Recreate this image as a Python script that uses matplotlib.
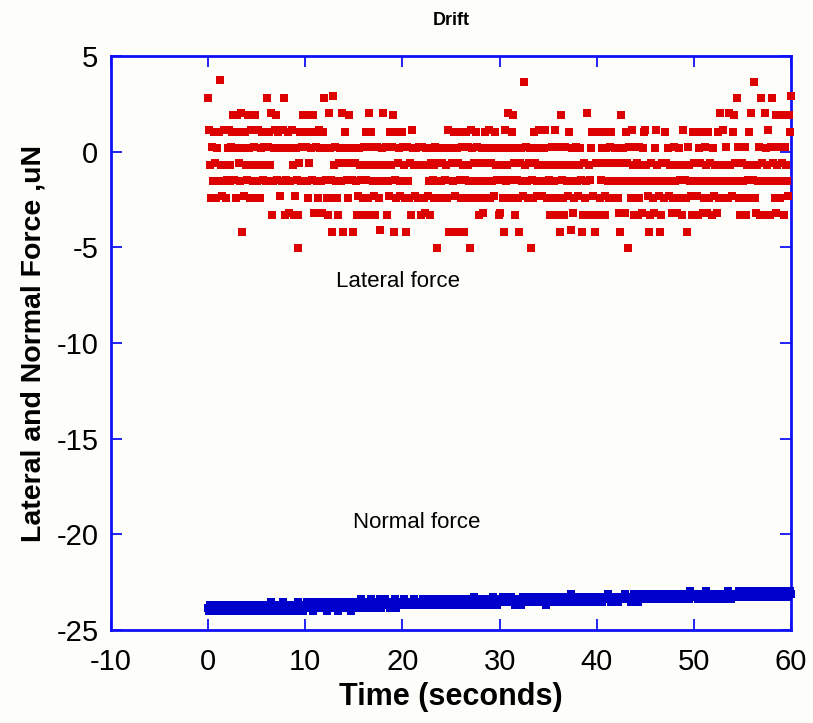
import numpy as np
import matplotlib
matplotlib.use("Agg")
import matplotlib.pyplot as plt

plt.rcParams["font.family"] = ["Liberation Sans", "DejaVu Sans"]
plt.rcParams["axes.unicode_minus"] = False

# Lateral force is digitised in coarse steps; each sample is stored as a level code.
# Upper-case codes sit one fine step above the coarse level.
lateral_levels = {
    "a": 3.65, "b": 2.80, "c": 1.92, "d": 1.05, "e": 0.18, "f": -0.68,
    "g": -1.55, "h": -2.42, "i": -3.30, "j": -4.18, "k": -5.05,
}
fine_step = 0.09
# One code per 0.1 s sample, 0 s .. 60 s
lateral_codes = (
    "bDfhEgdFhe" "gdAfHgDfhG" "eDfgEdcGeh" "cdFgCjeHdf" "GcehDfgEch"
    "gDfhedGfEd" "gbEdfCigeD" "cGdeHegDbi" "GedIgeDfiH" "eGkiFdgEcd"
    "cEghFdeGcI" "dEghDegIdb" "eGhiCeGjhB" "fEghiFegCj" "FdeGhcFeGj"
    "eFgiHefGih" "EfdGihCfdE" "gHifEghJfe" "CgfEigHdfE" "cjGhdFegHd"
    "dEfhjEghFi" "DefHefhEfi" "EfhIefHgiF" "eGhfEgkFhe" "gFheGfhDje"
    "eFgdHjeFdG" "hEfjGdhEfg" "kDehFgdEhi" "FgeIhdFgeD" "hFgeHdfGei"
    "IefGhjDgfC" "eGhdcFieGh" "jFegHafEgh" "FekGhdFegH" "fDegHfeDgh"
    "fGihEfgDih" "EfjcGhiEfg" "HdfJgeIhfE" "gHfeGjiFhg" "CifGedHijF"
    "dFihGedFiH" "eFghEdgFhe" "FghIjcFegI" "dFkEghDfiE" "gFihEfgIed"
    "DfgHjiFghI" "eDfgHjiFgh" "dFgeHfgIhf" "EghIfeGhiD" "fGhjEfgHid"
    "FgdHieFgdI" "hEfgIdhFgi" "eHfgIdhCfg" "DhfEghCfgH" "dcFgbEhiFg"
    "FghEifGdhC" "fGahIfgEib" "FgiCefDgiE" "bFghIcfEgh" "cFgiEfgHcdB"
)

# Normal force readings, finer steps
normal_levels = {
    "0": -24.15, "1": -24.00, "2": -23.85, "3": -23.70, "4": -23.55,
    "5": -23.40, "6": -23.25, "7": -23.10, "8": -22.95, "9": -22.80,
}
normal_codes = (
    "2132132321" "3121232131" "2312132212" "1223121321" "2132312123"
    "3232131232" "2313242312" "3223132413" "2312323132" "3241323213"
    "3243232314" "3232433242" "3413232432" "2343142323" "4323243132"
    "3434243534" "2343432453" "4324343524" "3453434243" "4352434343"
    "4354343434" "3453434343" "4543454335" "3454343453" "4435434345"
    "4545354543" "4354543435" "5434645453" "4543354545" "4356454345"
    "5454654545" "4565453545" "5435654546" "5654545456" "4545654535"
    "5656454565" "6564545656" "5457565465" "4565656545" "6546565456"
    "6565645656" "5676545656" "6546656567" "5656545676" "6547656556"
    "6765567656" "6576567656" "6576567656" "7656557676" "6567658666"
    "7676576656" "6787676567" "7656767665" "6676587657" "6767678767"
    "7678767876" "6787676768" "7678767678" "8767676787" "7676687678" "7"
)

t_start, t_end = 0.0, 60.0
x_ticks = [-10, 0, 10, 20, 30, 40, 50, 60]
y_ticks = [-25, -20, -15, -10, -5, 0, 5]

lateral = np.array([lateral_levels[c.lower()] + (fine_step if c.isupper() else 0.0)
                    for c in lateral_codes])
normal = np.array([normal_levels[c] for c in normal_codes])
t_lat = np.linspace(t_start, t_end, len(lateral))
t_norm = np.linspace(t_start, t_end, len(normal))

frame_blue = "#1010f8"
bg = "#fdfdfa"

fig = plt.figure(figsize=(8.13, 7.23), dpi=100, facecolor=bg)
ax = fig.add_axes([0.1365, 0.1286, 0.8365, 0.7939], facecolor=bg)

ax.plot(t_norm, normal, linestyle="none", marker="s", markersize=6.0,
        markeredgewidth=0, color="#0000cc", clip_on=False, zorder=3)
ax.plot(t_lat, lateral, linestyle="none", marker="s", markersize=5.3,
        markeredgewidth=0, color="#dd0000", clip_on=False, zorder=3)

ax.set_xlim(-10, 60)
ax.set_ylim(-25, 5)
ax.set_xticks(x_ticks)
ax.set_yticks(y_ticks)
ax.tick_params(direction="in", length=8, width=1.3, color=frame_blue,
               top=True, right=True, labelsize=21)
ax.tick_params(axis="x", pad=13)
ax.tick_params(axis="y", pad=9)
for spine in ax.spines.values():
    spine.set_color(frame_blue)
    spine.set_linewidth(2)

ax.set_xlabel("Time (seconds)", fontsize=22, fontweight="bold", labelpad=4)
ax.set_ylabel("Lateral and Normal Force ,uN", fontsize=20.5, fontweight="bold", labelpad=7)
ax.set_title("Drift", fontsize=13, fontweight="bold", pad=22)

ax.text(19.5, -6.8, "Lateral force", fontsize=16, ha="center", va="center")
ax.text(21.5, -19.4, "Normal force", fontsize=16, ha="center", va="center")

fig.savefig("out.png", dpi=100, facecolor=bg)
